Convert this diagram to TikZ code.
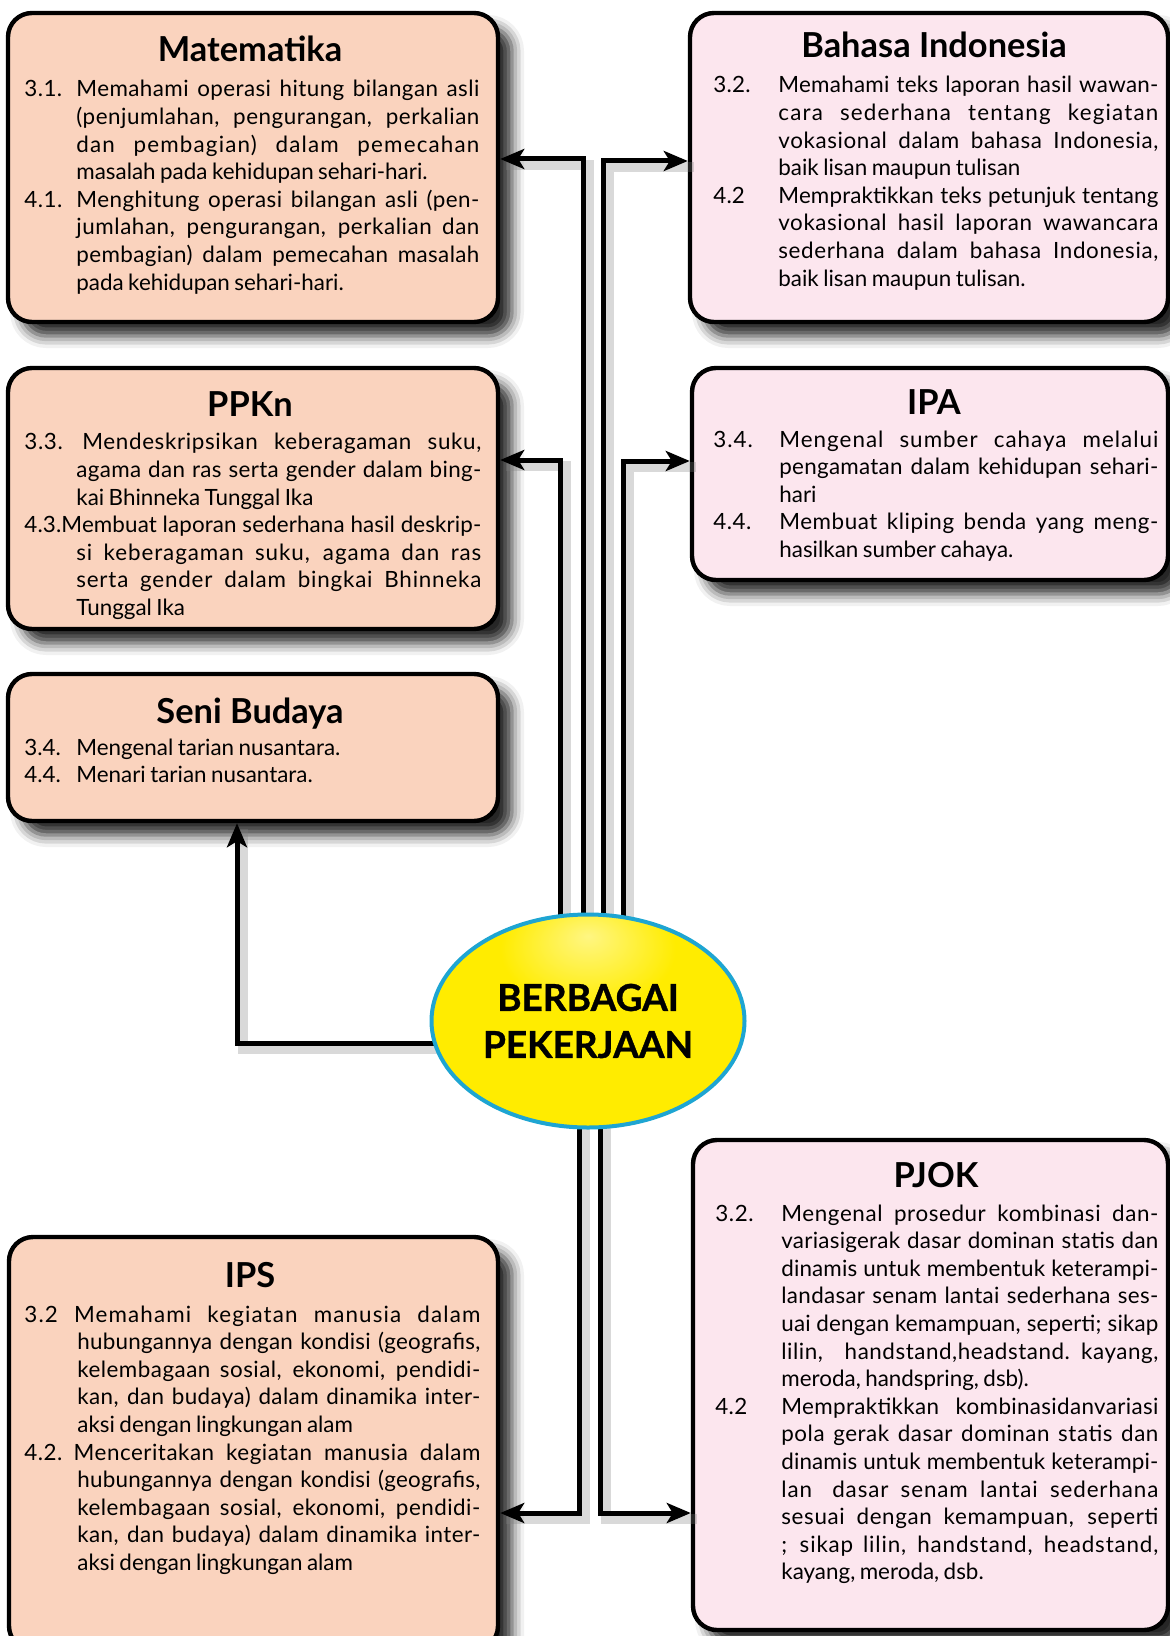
\documentclass[tikz,border=0pt]{standalone}
\usepackage{fontspec}
\setmainfont{Lato}
\usetikzlibrary{arrows.meta,shapes.geometric,shadows.blur}

\definecolor{boxpeach}{RGB}{250,211,190}
\definecolor{boxpink}{RGB}{252,230,238}
\definecolor{ellborder}{RGB}{30,165,210}
\definecolor{ellyellow}{RGB}{255,236,0}
\definecolor{ellhigh}{RGB}{255,246,130}
\definecolor{ellorange}{RGB}{245,145,20}

\pgfdeclareradialshading{ellshade}{\pgfpoint{0bp}{20bp}}{color(0bp)=(ellhigh); color(14bp)=(ellyellow); color(42bp)=(ellyellow); color(60bp)=(ellorange); color(90bp)=(ellorange)}

\newlength\hind
\newlength\bw
\newsavebox\fullbox
\newsavebox\textbox
\newcommand\bodysetup[2]{\setlength\bw{#1}\setlength\hind{#2}\spaceskip=0.2em plus 3em minus 0.06em\relax}
% justified line with mild automatic tracking
\newcommand\JL[2]{%
  \sbox\fullbox{#1#2}\sbox\textbox{#2}%
  \pgfmathsetmacro\lsval{max(0,min(6,25*(\the\bw-\the\wd\fullbox)/\the\wd\textbox))}%
  \hbox to\bw{\addfontfeatures{LetterSpace=\lsval}#1#2}}
\newcommand\FL[1]{\JL{}{#1}}
\newcommand\IL[2]{\JL{\makebox[\hind][l]{#1}}{#2}}
\newcommand\CL[1]{\JL{\hskip\hind}{#1}}
\newcommand\ILL[2]{\hbox to\bw{\makebox[\hind][l]{#1}#2\hfil}}
\newcommand\LL[1]{\hbox to\bw{\hskip\hind #1\hfil}}

\tikzset{
 box/.style={draw=black, line width=2.2pt, rounded corners=12pt, inner sep=0pt,
   blur shadow={shadow xshift=7pt, shadow yshift=-7pt, shadow blur radius=6pt, shadow opacity=85}},
 peachbox/.style={box, fill=boxpeach},
 pinkbox/.style={box, fill=boxpink},
 ttl/.style={font=\fontsize{17.2}{20}\selectfont\bfseries, anchor=base, inner sep=0pt},
 body/.style={font=\fontsize{11.2}{13.8}\selectfont, anchor=base west, inner sep=0pt, text width=#1},
 conn/.style={line width=2.5pt, -{Stealth[length=12pt,width=10pt,inset=3pt]},
   preaction={draw=black!50, opacity=.3, line width=5pt, -, transform canvas={shift={(3pt,-3pt)}}}},
}

\begin{document}
\begin{tikzpicture}[x=0.5pt,y=-0.5pt]
\useasboundingbox (0,0) rectangle (1170,1636);

% boxes
\node[peachbox, minimum width=245pt, minimum height=154.5pt] (mat) at (253,167.5) {};
\node[pinkbox, minimum width=239pt, minimum height=154.5pt] (bi) at (929,167.5) {};
\node[peachbox, minimum width=245pt, minimum height=130.5pt] (ppkn) at (253,498.5) {};
\node[pinkbox, minimum width=238pt, minimum height=106pt] (ipa) at (930,474) {};
\node[peachbox, minimum width=245pt, minimum height=73.5pt] (seni) at (253,747.5) {};
\node[peachbox, minimum width=244.5pt, minimum height=206.5pt] (ips) at (253.5,1443.5) {};
\node[pinkbox, minimum width=237.5pt, minimum height=245pt] (pjok) at (930.5,1385) {};

% titles
\node[ttl] (tmat) at (250,62) {Matematika};
\node[ttl] (tbi) at (934,58) {Bahasa Indonesia};
\node[ttl] (tppkn) at (250,416) {PPKn};
\node[ttl] (tipa) at (934,415) {IPA};
\node[ttl] (tseni) at (250,723) {Seni Budaya};
\node[ttl] (tips) at (250,1287) {IPS};
\node[ttl] (tpjok) at (936,1187) {PJOK};

% bodies
\node[body=227.5pt] (bmat) at (24,97) {\bodysetup{227.5pt}{26pt}%
\IL{3.1.}{Memahami operasi hitung bilangan asli}
\CL{(penjumlahan, pengurangan, perkalian}
\CL{dan pembagian) dalam pemecahan}
\LL{masalah pada kehidupan sehari-hari.}
\IL{4.1.}{Menghitung operasi bilangan asli (pen-}
\CL{jumlahan, pengurangan, perkalian dan}
\CL{pembagian) dalam pemecahan masalah}
\LL{pada kehidupan sehari-hari.}};

\node[body=222.5pt] (bbi) at (713,93) {\bodysetup{222.5pt}{32.5pt}%
\IL{3.2.}{Memahami teks laporan hasil wawan-}
\CL{cara sederhana tentang kegiatan}
\CL{vokasional dalam bahasa Indonesia,}
\LL{baik lisan maupun tulisan}
\IL{4.2}{Mempraktikkan teks petunjuk tentang}
\CL{vokasional hasil laporan wawancara}
\CL{sederhana dalam bahasa Indonesia,}
\LL{baik lisan maupun tulisan.}};

\node[body=228.5pt] (bppkn) at (24,450) {\bodysetup{228.5pt}{26pt}%
\IL{3.3.}{\hskip3pt Mendeskripsikan keberagaman suku,}
\CL{agama dan ras serta gender dalam bing-}
\LL{kai Bhinneka Tunggal Ika}
\FL{4.3.Membuat laporan sederhana hasil deskrip-}
\CL{si keberagaman suku, agama dan ras}
\CL{serta gender dalam bingkai Bhinneka}
\LL{Tunggal Ika}};

\node[body=222.5pt] (bipa) at (713,447) {\bodysetup{222.5pt}{33pt}%
\IL{3.4.}{Mengenal sumber cahaya melalui}
\CL{pengamatan dalam kehidupan sehari-}
\LL{hari}
\IL{4.4.}{Membuat kliping benda yang meng-}
\LL{hasilkan sumber cahaya.}};

\node[body=228pt] (bseni) at (24,755) {\bodysetup{228pt}{26pt}%
\ILL{3.4.}{Mengenal tarian nusantara.}
\ILL{4.4.}{Menari tarian nusantara.}};

\node[body=228pt] (bips) at (24,1322) {\bodysetup{228pt}{26.5pt}%
\FL{3.2 Memahami kegiatan manusia dalam}
\CL{hubungannya dengan kondisi (geografis,}
\CL{kelembagaan sosial, ekonomi, pendidi-}
\CL{kan, dan budaya) dalam dinamika inter-}
\LL{aksi dengan lingkungan alam}
\FL{4.2. Menceritakan kegiatan manusia dalam}
\CL{hubungannya dengan kondisi (geografis,}
\CL{kelembagaan sosial, ekonomi, pendidi-}
\CL{kan, dan budaya) dalam dinamika inter-}
\LL{aksi dengan lingkungan alam}};

\node[body=221.5pt] (bpjok) at (715,1221) {\bodysetup{221.5pt}{33pt}%
\IL{3.2.}{Mengenal prosedur kombinasi dan-}
\CL{variasigerak dasar dominan statis dan}
\CL{dinamis untuk membentuk keterampi-}
\CL{landasar senam lantai sederhana ses-}
\CL{uai dengan kemampuan, seperti; sikap}
\CL{lilin, handstand,headstand. kayang,}
\LL{meroda, handspring, dsb).}
\IL{4.2}{Mempraktikkan kombinasidanvariasi}
\CL{pola gerak dasar dominan statis dan}
\CL{dinamis untuk membentuk keterampi-}
\CL{lan\hskip4pt{} dasar senam lantai sederhana}
\CL{sesuai dengan kemampuan, seperti}
\CL{; sikap lilin, handstand, headstand,}
\LL{kayang, meroda, dsb.}};

% connectors
\coordinate (E) at (588,1021);
\draw[conn] ([xshift=-2.5pt]E) |- ([yshift=4.25pt]mat.east);
\draw[conn] ([xshift=7.5pt]E) |- ([yshift=3.25pt]bi.west);
\draw[conn] ([xshift=-14pt]E) |- ([yshift=19.25pt]ppkn.east);
\draw[conn] ([xshift=17.5pt]E) |- ([yshift=6.5pt]ipa.west);
\draw[conn] ([yshift=-11pt]E) -| ([xshift=-8pt]seni.south);
\draw[conn] ([xshift=-4.5pt]E) |- ([yshift=-34.75pt]ips.east);
\draw[conn] ([xshift=6pt]E) |- ([yshift=-64pt]pjok.west);

% centre ellipse
\node[ellipse, draw=ellborder, line width=2pt, shade, shading=ellshade,
  minimum width=156.5pt, minimum height=106.5pt, inner sep=0pt, align=center,
  font=\fontsize{18.5}{23.5}\selectfont\bfseries\addfontfeatures{FakeBold=1}] (ell) at (E) {BERBAGAI\\PEKERJAAN};
\end{tikzpicture}
\end{document}
